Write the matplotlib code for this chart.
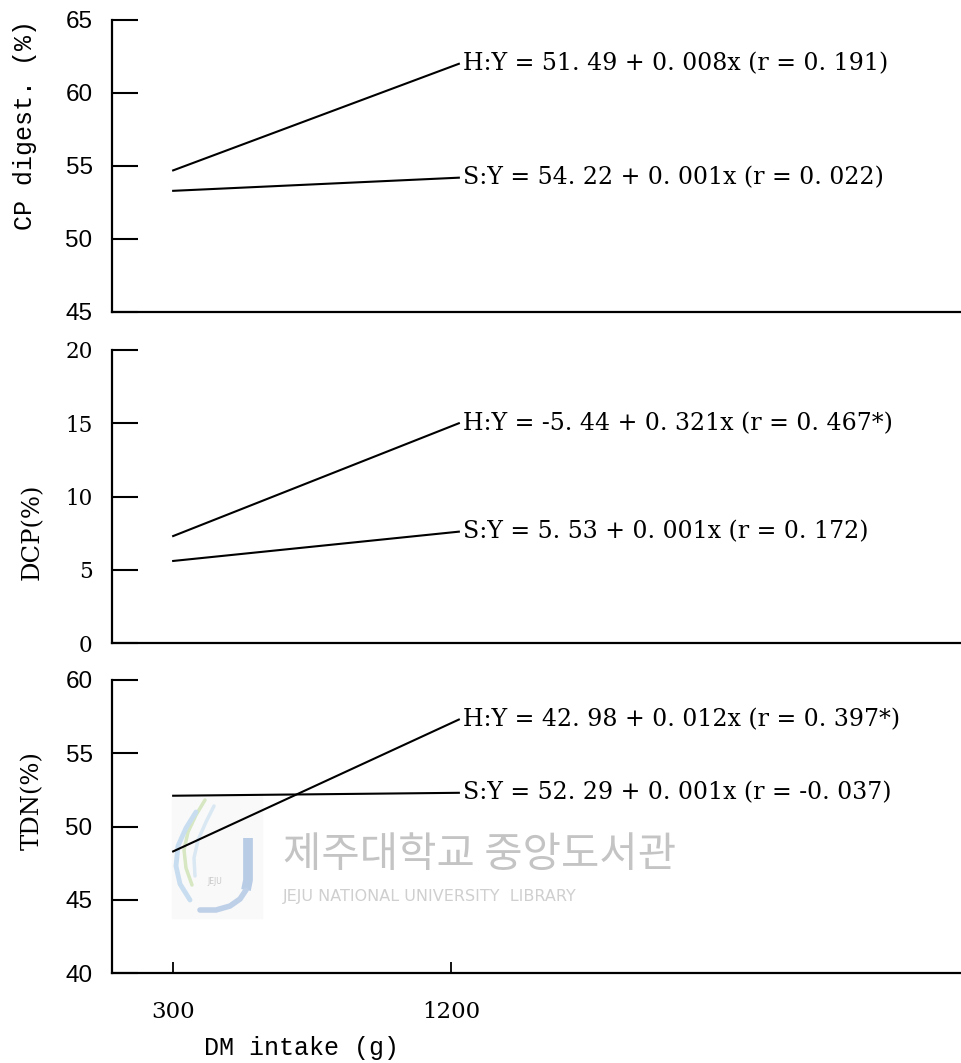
import matplotlib.pyplot as plt
from matplotlib.patches import Rectangle
from matplotlib.lines import Line2D

# DM intake (g) at the two ends of each fitted line
dm_intake = [300, 1225]

# fitted lines, H and S groups
cp_h = [54.7, 62.0]
cp_s = [53.3, 54.2]
dcp_h = [7.3, 15.0]
dcp_s = [5.6, 7.6]
tdn_h = [48.3, 57.3]
tdn_s = [52.1, 52.3]

cp_labels = ["H:Y = 51. 49 + 0. 008x (r = 0. 191)",
             "S:Y = 54. 22 + 0. 001x (r = 0. 022)"]
dcp_labels = ["H:Y = -5. 44 + 0. 321x (r = 0. 467*)",
              "S:Y = 5. 53 + 0. 001x (r = 0. 172)"]
tdn_labels = ["H:Y = 42. 98 + 0. 012x (r = 0. 397*)",
              "S:Y = 52. 29 + 0. 001x (r = -0. 037)"]

x_ticks = [300, 1200]

fig = plt.figure(figsize=(9.62, 10.63), dpi=100)

left = 112 / 962
width = 1 - left
ax1 = fig.add_axes([left, 1 - 312 / 1063, width, 292 / 1063])
ax2 = fig.add_axes([left, 1 - 643 / 1063, width, 293 / 1063])
ax3 = fig.add_axes([left, 1 - 973 / 1063, width, 293 / 1063])

panels = [
    (ax1, cp_h, cp_s, cp_labels, (45, 65), [45, 50, 55, 60, 65]),
    (ax2, dcp_h, dcp_s, dcp_labels, (0, 20), [0, 5, 10, 15, 20]),
    (ax3, tdn_h, tdn_s, tdn_labels, (40, 60), [40, 45, 50, 55, 60]),
]

eq_font = dict(family="DejaVu Serif", fontsize=17, va="center", ha="left")

for ax, h, s, labels, ylim, yticks in panels:
    ax.plot(dm_intake, h, color="black", lw=1.5)
    ax.plot(dm_intake, s, color="black", lw=1.5)
    ax.text(dm_intake[1] + 12, h[1], labels[0], **eq_font)
    ax.text(dm_intake[1] + 12, s[1], labels[1], **eq_font)

    ax.set_xlim(102, 2854)
    ax.set_ylim(*ylim)
    ax.set_yticks(yticks)
    ax.patch.set_alpha(0)
    for side in ["top", "right"]:
        ax.spines[side].set_visible(False)
    for side in ["left", "bottom"]:
        ax.spines[side].set_linewidth(1.6)
    ax.tick_params(axis="y", direction="in", length=19, width=1.5, pad=14)

# y tick label fonts differ between panels
for lab in ax1.get_yticklabels() + ax3.get_yticklabels():
    lab.set_family("Liberation Sans")
    lab.set_fontsize(17.5)
for lab in ax2.get_yticklabels():
    lab.set_family("DejaVu Serif")
    lab.set_fontsize(15.5)

ax1.tick_params(axis="x", bottom=False, labelbottom=False)
ax2.tick_params(axis="x", bottom=False, labelbottom=False)
ax3.set_xticks(x_ticks)
ax3.set_xticklabels([str(v) for v in x_ticks], family="DejaVu Serif", fontsize=16.5)
ax3.tick_params(axis="x", direction="in", length=8, width=1.3, pad=20)

ax1.set_ylabel("CP digest. (%)", family="Liberation Mono", fontsize=18)
ax1.yaxis.set_label_coords(-0.088, 0.64)
ax2.set_ylabel("DCP(%)", family="DejaVu Serif", fontsize=17.5)
ax2.yaxis.set_label_coords(-0.08, 0.38)
ax3.set_ylabel("TDN(%)", family="DejaVu Serif", fontsize=17.5)
ax3.yaxis.set_label_coords(-0.08, 0.59)
ax3.set_xlabel("DM intake (g)", family="Liberation Mono", fontsize=18)
ax3.xaxis.set_label_coords((302 - 112) / 850, -0.215)


# library watermark (logo + name), drawn behind the panels
def fx(px):
    return px / 962


def fy(py):
    return 1 - py / 1063


def stroke(xs, ys, color, lw, cap="round"):
    fig.lines.append(Line2D([fx(v) for v in xs], [fy(v) for v in ys],
                            transform=fig.transFigure, color=color, lw=lw,
                            solid_capstyle=cap, zorder=-2))


fig.patches.append(Rectangle((fx(172), fy(918)), fx(90), 122 / 1063,
                             transform=fig.transFigure, color="#f9f9f9", zorder=-3))
# flame strokes
stroke([205, 196, 188, 184, 186, 192], [800, 815, 832, 850, 868, 885], "#d6e7c2", 2.5)
stroke([214, 206, 198, 194, 195], [806, 822, 840, 858, 876], "#dae8f3", 2.5)
stroke([196, 186, 178, 176, 180, 190], [812, 828, 846, 866, 884, 900], "#c8def0", 3.5)
# the "J"
stroke([248, 248, 246], [838, 880, 890], "#b8cce6", 7, cap="butt")
stroke([246, 240, 230, 216, 200], [890, 899, 906, 910, 910], "#bed0e8", 4)
fig.text(fx(215), fy(882), "JEJU", family="DejaVu Sans", fontsize=5.5,
         color="#c8c8c8", ha="center", va="center", zorder=-1)
fig.text(fx(283), fy(856), "제주대학교 중앙도서관",
         family=["Noto Sans CJK KR", "DejaVu Sans"], fontsize=30,
         color="#c4c4c4", va="center", ha="left", zorder=-1)
fig.text(fx(283), fy(896), "JEJU NATIONAL UNIVERSITY  LIBRARY",
         family="DejaVu Sans", fontsize=11.5, color="#cfcfcf",
         va="center", ha="left", zorder=-1)

fig.savefig("out.png", dpi=100)
